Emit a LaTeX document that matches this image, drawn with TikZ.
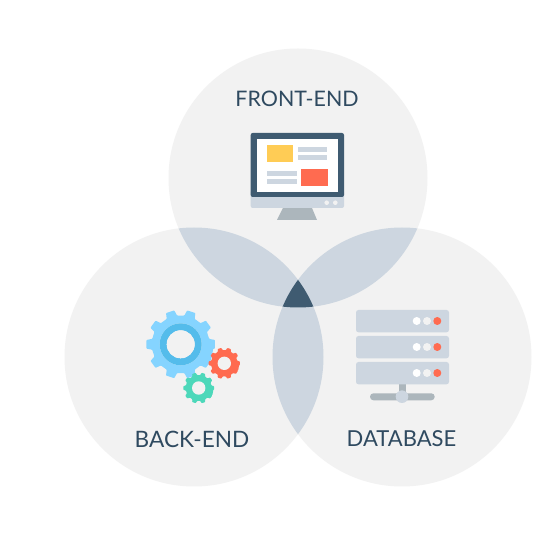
\documentclass[tikz,border=0pt]{standalone}
\usepackage{fontspec}
\setmainfont{Lato}
\definecolor{circlegray}{HTML}{F2F2F2}
\definecolor{lensblue}{HTML}{CDD6E0}
\definecolor{darkslate}{HTML}{3F5B71}
\definecolor{labelslate}{HTML}{2F4A60}
\definecolor{standgray}{HTML}{ACB6BC}
\definecolor{sunyellow}{HTML}{FFCC55}
\definecolor{coral}{HTML}{FF6B50}
\definecolor{skyblue}{HTML}{85D4FF}
\definecolor{ringblue}{HTML}{54BCEB}
\definecolor{mint}{HTML}{4DD8BA}
\newcommand{\gearpic}[6]{% x, y, outer radius, teeth, colour, hole radius
	\pgfmathsetmacro{\stepang}{360/#4}
	\pgfmathsetmacro{\rootrad}{#3*0.84}
	\fill[#5,rounded corners=0.7pt] ([shift={(#1,#2)}]-0.2*\stepang:#3)
	\foreach \k [evaluate=\k as \ang using \k*\stepang] in {0,...,#4} {
		-- ([shift={(#1,#2)}]\ang+0.20*\stepang:#3)
		-- ([shift={(#1,#2)}]\ang+0.30*\stepang:\rootrad)
		-- ([shift={(#1,#2)}]\ang+0.70*\stepang:\rootrad)
		-- ([shift={(#1,#2)}]\ang+0.80*\stepang:#3)
	} -- cycle;
	\fill[circlegray] (#1,#2) circle (#6);
}
\tikzset{
	venn label/.style={text=labelslate,inner sep=0pt},
	server row/.style={fill=lensblue,rounded corners=2.5pt},
	text line/.style={fill=lensblue}
}
\begin{document}
\begin{tikzpicture}[x=1pt,y=-1pt]
	\useasboundingbox (0,0) rectangle (550,537);
	\fill[white] (0,0) rectangle (550,537);
	
	% three circles
	\fill[circlegray] (298,178) circle (129.5);
	\fill[circlegray] (194,357) circle (129.5);
	\fill[circlegray] (402,357) circle (129.5);
	
	% overlaps
	\begin{scope}
		\clip (298,178) circle (129.5);
		\fill[lensblue] (194,357) circle (129.5);
		\fill[lensblue] (402,357) circle (129.5);
	\end{scope}
	\begin{scope}
		\clip (194,357) circle (129.5);
		\fill[lensblue] (402,357) circle (129.5);
	\end{scope}
	\begin{scope}
		\clip (298,178) circle (129.5);
		\clip (194,357) circle (129.5);
		\fill[darkslate] (402,357) circle (129.5);
	\end{scope}
	
	% monitor
	\fill[standgray] (283,208) -- (312,208) -- (317,220) -- (277,220) -- cycle;
	\fill[lensblue,rounded corners=2pt] (250.7,190) rectangle (344,208);
	\fill[darkslate,rounded corners=2pt] (250.7,133) -- (344,133) -- (344,197) -- (250.7,197) -- cycle;
	\fill[white] (256.7,139.3) rectangle (338,192);
	\fill[sunyellow] (267,145.3) rectangle (293.3,162);
	\fill[text line] (297.7,147.3) rectangle (327.3,152);
	\fill[text line] (297.7,155.3) rectangle (327.3,160);
	\fill[text line] (267.3,171.3) rectangle (297,176);
	\fill[text line] (267.3,179) rectangle (297,184);
	\fill[coral] (301,169.3) rectangle (327.7,186);
	\foreach \dotx in {326.7,335.3}
		\fill[circlegray] (\dotx,202.7) circle (2.3);
	
	% gears
	\gearpic{180.7}{344.3}{34.5}{10}{skyblue}{21}
	\fill[ringblue,even odd rule] (180.7,344.3) circle (21) (180.7,344.3) circle (14);
	\fill[circlegray] (180.7,344.3) circle (14);
	\gearpic{224.3}{363.3}{15.7}{10}{coral}{6.7}
	\gearpic{198.7}{388}{15.5}{10}{mint}{6.7}
	
	% server
	\fill[standgray] (399,384) rectangle (406,394);
	\fill[standgray,rounded corners=3.4pt] (370,393.3) rectangle (434.7,400.3);
	\fill[lensblue] (402,396.7) circle (6.3);
	\foreach \rowy in {310,336,362} {
		\fill[server row] (356,\rowy) rectangle (449,\rowy+22.3);
		\fill[white] (416.7,\rowy+11) circle (4);
		\fill[circlegray] (427,\rowy+11) circle (4);
		\fill[coral] (437.3,\rowy+11) circle (4);
	}
	
	% labels
	\node[venn label,font=\fontsize{21.4}{24}\selectfont] (frontend) at (297,99) {FRONT-END};
	\node[venn label,font=\fontsize{22.6}{24}\selectfont] (backend) at (192,439) {BACK-END};
	\node[venn label,font=\fontsize{22}{24}\selectfont] (database) at (401.5,439) {DATABASE};
\end{tikzpicture}
\end{document}
